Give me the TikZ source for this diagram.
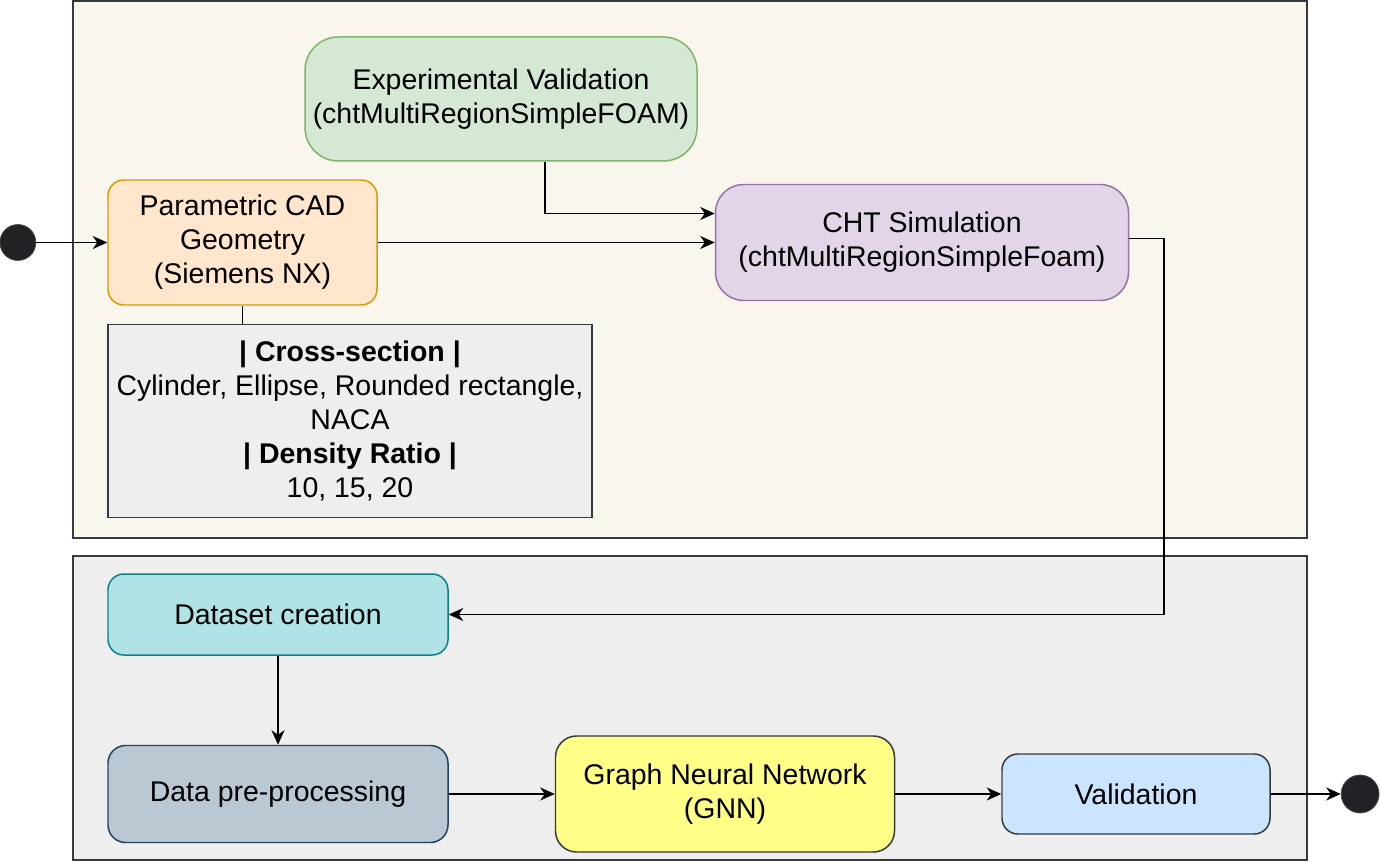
\documentclass[tikz,border=0pt]{standalone}
\usepackage{fontspec}
\setmainfont{Liberation Sans}
\usetikzlibrary{arrows.meta,positioning,calc}
\definecolor{laneback}{HTML}{F9F7ED}
\definecolor{lanegray}{HTML}{EEEEEE}
\definecolor{edgedark}{HTML}{36393D}
\definecolor{cadfill}{HTML}{FFE6CC}
\definecolor{caddraw}{HTML}{D79B00}
\definecolor{expfill}{HTML}{D5E8D4}
\definecolor{expdraw}{HTML}{82B366}
\definecolor{chtfill}{HTML}{E1D5E7}
\definecolor{chtdraw}{HTML}{9673A6}
\definecolor{dsfill}{HTML}{B0E3E6}
\definecolor{dsdraw}{HTML}{0E8088}
\definecolor{ppfill}{HTML}{BAC8D3}
\definecolor{ppdraw}{HTML}{23445D}
\definecolor{gnnfill}{HTML}{FFFF88}
\definecolor{valfill}{HTML}{CCE5FF}
\definecolor{dotfill}{HTML}{222226}

\begin{document}
\begin{tikzpicture}[
  font=\fontsize{16.2}{19.3}\selectfont,
  bx/.style={draw, line width=0.85pt, align=center, inner sep=2pt},
  arr/.style={-{Stealth[length=2.9mm,width=2.6mm,inset=0.9mm]}, line width=1pt},
  lane/.style={draw=edgedark, line width=1.1pt},
  dot/.style={circle, fill=dotfill, draw=dotfill!80, inner sep=0pt},
  cad/.style={bx, rounded corners=9pt, fill=cadfill, draw=caddraw,
    minimum width=5.38cm, minimum height=2.5cm},
  prm/.style={bx, fill=lanegray, draw=edgedark,
    minimum width=9.68cm, minimum height=3.86cm},
  exv/.style={bx, rounded corners=19pt, fill=expfill, draw=expdraw,
    minimum width=7.84cm, minimum height=2.48cm},
  sim/.style={bx, rounded corners=16pt, fill=chtfill, draw=chtdraw,
    minimum width=8.26cm, minimum height=2.32cm},
  dsc/.style={bx, rounded corners=9pt, fill=dsfill, draw=dsdraw,
    minimum width=6.8cm, minimum height=1.62cm},
  pre/.style={bx, rounded corners=10pt, fill=ppfill, draw=ppdraw,
    minimum width=6.8cm, minimum height=1.94cm},
  gnn/.style={bx, rounded corners=12pt, fill=gnnfill, draw=edgedark,
    minimum width=6.78cm, minimum height=2.32cm},
  val/.style={bx, rounded corners=9pt, fill=valfill, draw=edgedark,
    minimum width=5.36cm, minimum height=1.6cm}
]
\useasboundingbox (0,0) rectangle (27.6,-17.24);
% lanes
\filldraw[lane, fill=laneback] (1.46,-0.02) rectangle (26.14,-10.76);
\filldraw[lane, fill=lanegray] (1.46,-11.12) rectangle (26.14,-17.2);
% upper lane
\node[cad] (cadgeo) at (4.85,-4.85) {Parametric CAD\\Geometry\\(Siemens NX)};
\node[dot, minimum size=0.72cm, left=1.42cm of cadgeo] (start) {};
\node[prm, below right=0.36cm and 0cm of cadgeo.south west] (params)
  {\textbf{| Cross-section |}\\Cylinder, Ellipse, Rounded rectangle,\\NACA\\\textbf{| Density Ratio |}\\10, 15, 20};
\node[exv] (expval) at (10.02,-1.98) {Experimental Validation\\(chtMultiRegionSimpleFOAM)};
\node[sim, right=6.74cm of cadgeo] (chtsim) {CHT Simulation\\(chtMultiRegionSimpleFoam)};
% lower lane
\node[dsc] (dataset) at (5.56,-12.29) {Dataset creation};
\node[pre, below=1.78cm of dataset] (prepro) {Data pre-processing};
\node[gnn, right=2.12cm of prepro] (gnnet) {Graph Neural Network\\(GNN)};
\node[val, right=2.12cm of gnnet] (valid) {Validation};
\node[dot, minimum size=0.76cm, right=1.4cm of valid] (stop) {};
% connectors
\draw[arr] (start) -- (cadgeo);
\draw[line width=1pt] (cadgeo.south) -- (cadgeo.south |- params.north);
\draw[arr] ([xshift=0.88cm]expval.south) |- ([yshift=0.58cm]chtsim.west);
\draw[arr] (cadgeo.east) -- (cadgeo.east -| chtsim.west);
\draw[arr] ([yshift=0.08cm]chtsim.east) -- ++(0.7,0) |- (dataset.east);
\draw[arr] (dataset) -- (prepro);
\draw[arr] (prepro) -- (gnnet);
\draw[arr] (gnnet) -- (valid);
\draw[arr] (valid) -- (stop);
\end{tikzpicture}
\end{document}
